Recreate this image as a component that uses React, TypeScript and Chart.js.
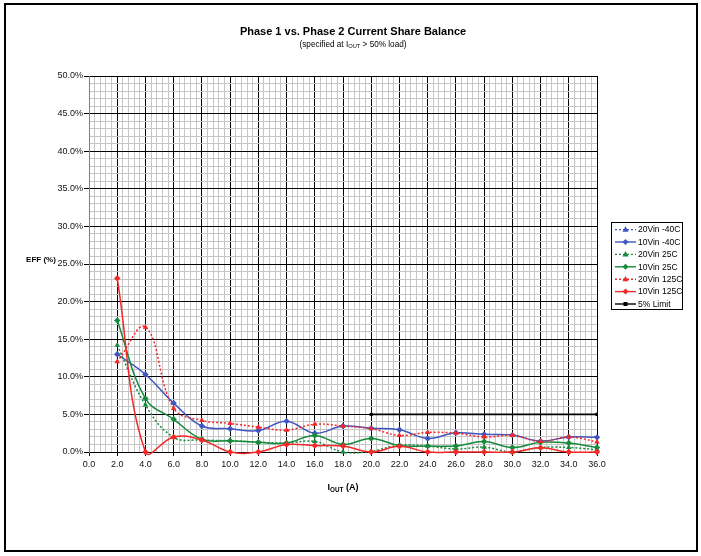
import React, { useEffect, useRef } from 'react';
import { Chart, registerables } from 'chart.js';

Chart.register(...registerables);

// ---- data ----
const currentA = [2, 4, 6, 8, 10, 12, 14, 16, 18, 20, 22, 24, 26, 28, 30, 32, 34, 36];
const vin20m40: number[] = [];
const vin10m40 = [13.0, 10.3, 6.5, 3.45, 3.1, 2.85, 4.1, 2.5, 3.45, 3.15, 2.95, 1.8, 2.55, 2.35, 2.25, 1.45, 2.0, 1.95];
const vin20c25 = [14.2, 6.25, 1.95, 1.6, 1.5, 1.3, 1.2, 1.4, 0.0, 0.1, 0.9, 0.8, 0.4, 0.65, 0.0, 0.6, 0.6, 0.3];
const vin10c25 = [17.5, 7.1, 4.35, 1.7, 1.5, 1.3, 1.2, 2.2, 1.0, 1.8, 0.85, 0.8, 0.8, 1.4, 0.6, 1.3, 1.2, 0.6];
const vin20c125 = [12.0, 16.6, 5.8, 4.2, 3.8, 3.3, 2.9, 3.7, 3.45, 3.1, 2.2, 2.6, 2.5, 2.0, 2.2, 1.4, 2.0, 1.35];
const vin10c125 = [23.1, 0.0, 2.0, 1.6, 0.0, 0.0, 1.0, 0.85, 0.8, 0.0, 0.75, 0.0, 0.0, 0.0, 0.0, 0.55, 0.0, 0.0];
const limitX = [20, 36];
const limitY = [5, 5];

const seriesLabels = ['20Vin -40C', '10Vin -40C', '20Vin 25C', '10Vin 25C', '20Vin 125C', '10Vin 125C', '5% Limit'];

const FONT = '"Liberation Sans", Arial, Helvetica, sans-serif';
const BLUE = '#3F55C0';
const GREEN = '#178A3C';
const RED = '#F42828';

function isMult(v: number, m: number) {
  const r = v / m;
  return Math.abs(r - Math.round(r)) < 1e-6;
}

function pts(xs: number[], ys: number[]) {
  return ys.map((y, i) => ({ x: xs[i], y }));
}

type Part = { t: string; sub?: boolean };

function drawParts(ctx: CanvasRenderingContext2D, parts: Part[], cx: number, cy: number, size: number, bold: boolean) {
  const w0 = bold ? 'bold ' : '';
  const mainFont = `${w0}${size}px ${FONT}`;
  const subFont = `${w0}${(size * 0.7).toFixed(2)}px ${FONT}`;
  let total = 0;
  const widths = parts.map((p) => {
    ctx.font = p.sub ? subFont : mainFont;
    const w = ctx.measureText(p.t).width;
    total += w;
    return w;
  });
  let x = cx - total / 2;
  ctx.textAlign = 'left';
  ctx.textBaseline = 'alphabetic';
  const base = cy + size * 0.36;
  parts.forEach((p, i) => {
    ctx.font = p.sub ? subFont : mainFont;
    ctx.fillText(p.t, x, p.sub ? base + size * 0.18 : base);
    x += widths[i];
  });
}

function drawMarker(ctx: CanvasRenderingContext2D, style: string, x: number, y: number, r: number, color: string) {
  ctx.save();
  ctx.fillStyle = color;
  ctx.strokeStyle = color;
  ctx.setLineDash([]);
  ctx.beginPath();
  if (style === 'triangle') {
    ctx.moveTo(x, y - r * 1.1);
    ctx.lineTo(x + r, y + r * 0.7);
    ctx.lineTo(x - r, y + r * 0.7);
  } else if (style === 'rectRot') {
    ctx.moveTo(x, y - r);
    ctx.lineTo(x + r, y);
    ctx.lineTo(x, y + r);
    ctx.lineTo(x - r, y);
  } else {
    ctx.rect(x - r, y - r, r * 2, r * 2);
  }
  ctx.closePath();
  ctx.fill();
  ctx.restore();
}

const decorPlugin = {
  id: 'decor',
  afterDraw(chart: any) {
    const ctx: CanvasRenderingContext2D = chart.ctx;
    ctx.save();
    ctx.fillStyle = '#000';
    // titles
    drawParts(ctx, [{ t: 'Phase 1 vs. Phase 2 Current Share Balance' }], 353, 31, 11, true);
    drawParts(ctx, [{ t: '(specified at I' }, { t: 'OUT', sub: true }, { t: ' > 50% load)' }], 353, 44, 8.2, false);
    // axis titles
    drawParts(ctx, [{ t: 'I' }, { t: 'OUT', sub: true }, { t: ' (A)' }], 343, 487, 9, true);
    drawParts(ctx, [{ t: 'EFF (%)' }], 41, 259, 8, true);

    // legend
    const lx = 611.5, ly = 222.5, lw = 71, lh = 87;
    ctx.fillStyle = '#fff';
    ctx.fillRect(lx, ly, lw, lh);
    ctx.strokeStyle = '#000';
    ctx.lineWidth = 1;
    ctx.setLineDash([]);
    ctx.strokeRect(lx, ly, lw, lh);
    const dsets = chart.data.datasets;
    dsets.forEach((ds: any, i: number) => {
      const y = 229.6 + i * 12.4;
      ctx.save();
      ctx.strokeStyle = ds.borderColor;
      ctx.lineWidth = 1.4;
      ctx.setLineDash(ds.borderDash || []);
      ctx.beginPath();
      ctx.moveTo(615, y);
      ctx.lineTo(636, y);
      ctx.stroke();
      ctx.restore();
      drawMarker(ctx, ds.pointStyle, 625.5, y, ds.pointStyle === 'rect' ? 2 : 3, ds.borderColor);
      ctx.fillStyle = '#000';
      ctx.font = `8.5px ${FONT}`;
      ctx.textAlign = 'left';
      ctx.textBaseline = 'middle';
      ctx.fillText(ds.label, 638, y + 0.5);
    });

    // outer frame
    ctx.strokeStyle = '#000';
    ctx.lineWidth = 2;
    ctx.strokeRect(5, 4, 692, 547);
    ctx.restore();
  },
};

export default function App() {
  const ref = useRef<HTMLCanvasElement | null>(null);

  useEffect(() => {
    if (!ref.current) return;
    const mk = (label: string, data: number[], color: string, dashed: boolean, style: string, order: number) => ({
      label,
      data: pts(currentA, data),
      borderColor: color,
      backgroundColor: color,
      borderWidth: 1.5,
      borderDash: dashed ? [2, 2] : [],
      pointStyle: style,
      pointRadius: 3.2,
      pointBorderWidth: 0,
      pointBackgroundColor: color,
      tension: 0.4,
      clip: 4,
      order,
    });
    const chart = new Chart(ref.current, {
      type: 'line',
      data: {
        datasets: [
          mk(seriesLabels[0], vin20m40, BLUE, true, 'triangle', 7),
          mk(seriesLabels[1], vin10m40, BLUE, false, 'rectRot', 6),
          mk(seriesLabels[2], vin20c25, GREEN, true, 'triangle', 5),
          mk(seriesLabels[3], vin10c25, GREEN, false, 'rectRot', 4),
          mk(seriesLabels[4], vin20c125, RED, true, 'triangle', 3),
          mk(seriesLabels[5], vin10c125, RED, false, 'rectRot', 2),
          {
            label: seriesLabels[6],
            data: pts(limitX, limitY),
            borderColor: '#000',
            backgroundColor: '#000',
            borderWidth: 1.6,
            borderDash: [],
            pointStyle: 'rect',
            pointRadius: 2.2,
            pointBorderWidth: 0,
            tension: 0,
            order: 1,
          },
        ] as any,
      },
      options: {
        responsive: false,
        animation: false,
        devicePixelRatio: 1,
        layout: { padding: { left: 0, top: 76, right: 104, bottom: 0 } },
        elements: { line: { capBezierPoints: false } },
        plugins: {
          legend: { display: false },
          title: { display: false },
          tooltip: { enabled: false },
        },
        scales: {
          x: {
            type: 'linear',
            min: 0,
            max: 36,
            afterFit: (s: any) => {
              s.height = 104;
            },
            ticks: {
              stepSize: 0.4,
              autoSkip: false,
              maxRotation: 0,
              minRotation: 0,
              padding: 3,
              color: '#111',
              font: { family: FONT, size: 9 },
              callback: (v: any) => (isMult(Number(v), 2) ? Number(v).toFixed(1) : ''),
            },
            grid: {
              color: (c: any) => {
                const v = c.tick ? c.tick.value : 0;
                if (Math.abs(v) < 1e-6) return '#808080';
                return isMult(v, 2) ? '#000' : '#c6c6c6';
              },
              lineWidth: 1,
              tickLength: 4,
              tickColor: (c: any) => (c.tick && isMult(c.tick.value, 2) ? '#000' : 'rgba(0,0,0,0)'),
            },
            border: { display: true, color: '#000', width: 1 },
          },
          y: {
            type: 'linear',
            min: 0,
            max: 50,
            afterFit: (s: any) => {
              s.width = 89;
            },
            ticks: {
              stepSize: 1,
              autoSkip: false,
              padding: 1,
              color: '#111',
              font: { family: FONT, size: 9 },
              callback: (v: any) => (isMult(Number(v), 5) ? Number(v).toFixed(1) + '%' : ''),
            },
            grid: {
              color: (c: any) => {
                const v = c.tick ? c.tick.value : 0;
                return isMult(v, 5) ? '#000' : '#c6c6c6';
              },
              lineWidth: 1,
              tickLength: 5,
              tickColor: (c: any) => (c.tick && isMult(c.tick.value, 5) ? '#000' : 'rgba(0,0,0,0)'),
            },
            border: { display: true, color: '#808080', width: 1 },
          },
        },
      } as any,
      plugins: [decorPlugin],
    });
    return () => chart.destroy();
  }, []);

  return (
    <div style={{ position: 'fixed', left: 0, top: 0, width: 701, height: 556, background: '#fff' }}>
      <canvas ref={ref} width={701} height={556} style={{ display: 'block', width: 701, height: 556 }} />
    </div>
  );
}
